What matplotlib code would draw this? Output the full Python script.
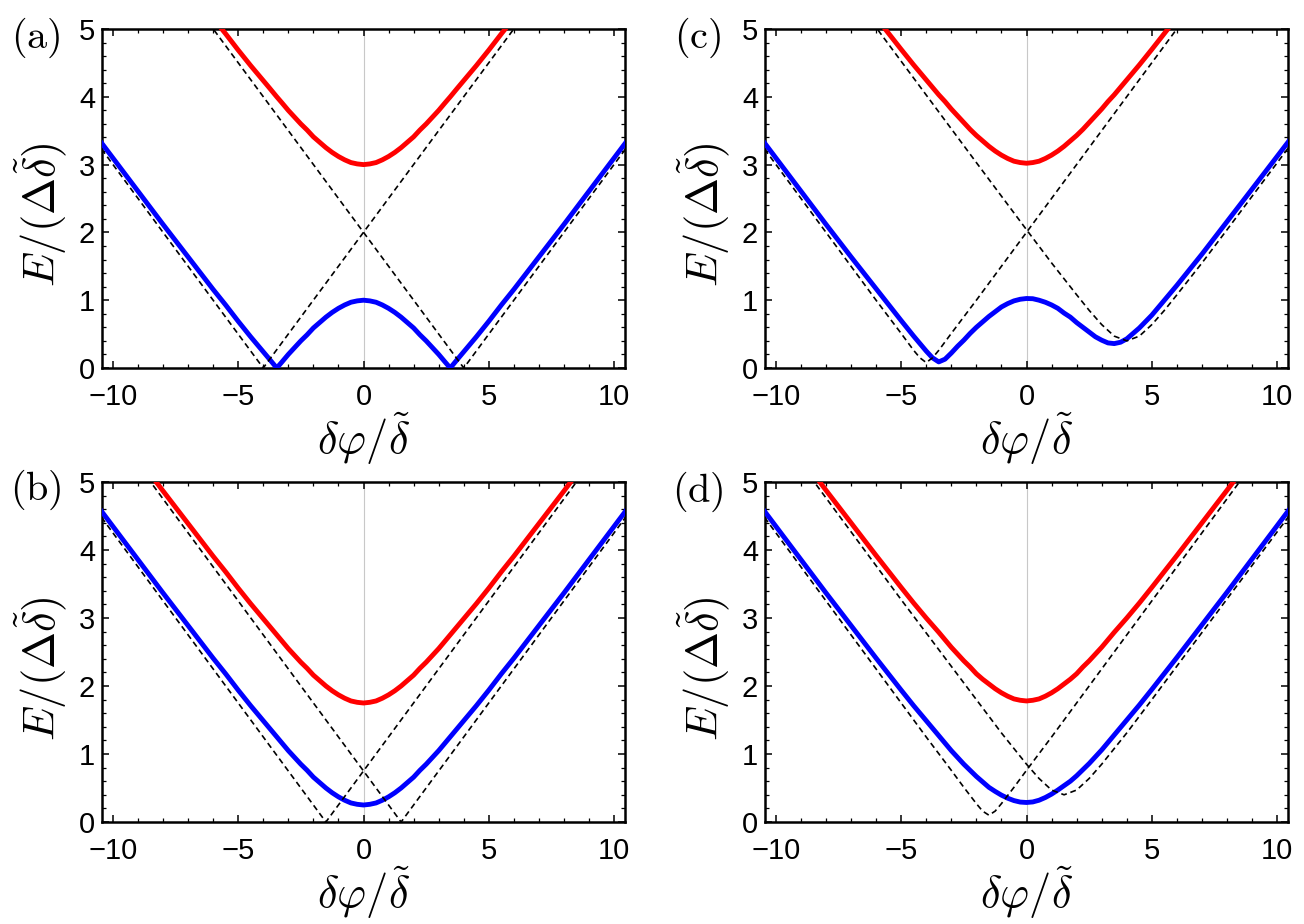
import matplotlib
matplotlib.use("Agg")
import matplotlib.pyplot as plt
from matplotlib.ticker import MultipleLocator, FixedLocator

plt.rcParams['mathtext.fontset'] = 'cm'
plt.rcParams['font.family'] = ['Liberation Sans', 'DejaVu Sans']

# ---------------- data ----------------
# Panel (a)
xa = [-10.45, -9, -8, -7, -6, -5.5, -5, -4.5, -4, -3.75, -3.46, -3.25, -3, -2.75, -2.5, -2.25, -2,
      -1.75, -1.5, -1.25, -1, -0.75, -0.5, -0.25, 0,
      0.25, 0.5, 0.75, 1, 1.25, 1.5, 1.75, 2, 2.25, 2.5, 2.75, 3, 3.25, 3.46, 3.75, 4, 4.5, 5, 5.5,
      6, 7, 8, 9, 10.45]
red_a = [7.32, 6.61, 6.12, 5.64, 5.16, 4.93, 4.69, 4.46, 4.24, 4.13, 4.00, 3.91, 3.80, 3.70, 3.60, 3.51, 3.41,
         3.33, 3.25, 3.18, 3.12, 3.07, 3.03, 3.01, 3.00,
         3.01, 3.03, 3.07, 3.12, 3.18, 3.25, 3.33, 3.41, 3.51, 3.60, 3.70, 3.80, 3.91, 4.00, 4.13, 4.24, 4.46,
         4.69, 4.93, 5.16, 5.64, 6.12, 6.61, 7.32]
blue_a = [3.32, 2.61, 2.12, 1.64, 1.16, 0.93, 0.69, 0.46, 0.24, 0.13, 0.00, 0.09, 0.20, 0.30, 0.40, 0.49, 0.59,
          0.67, 0.75, 0.82, 0.88, 0.93, 0.97, 0.99, 1.00,
          0.99, 0.97, 0.93, 0.88, 0.82, 0.75, 0.67, 0.59, 0.49, 0.40, 0.30, 0.20, 0.09, 0.00, 0.13, 0.24, 0.46,
          0.69, 0.93, 1.16, 1.64, 2.12, 2.61, 3.32]
da1_x = [-10.45, -4, 10.45]
da1_y = [3.23, 0.00, 7.23]
da2_x = [-10.45, 4, 10.45]
da2_y = [7.23, 0.00, 3.23]

# Panel (b)
xb = [-10.45, -9, -8, -7, -6, -5.5, -5, -4.5, -4, -3.5, -3, -2.75, -2.5, -2.25, -2, -1.75, -1.5,
      -1.25, -1, -0.75, -0.5, -0.25, 0,
      0.25, 0.5, 0.75, 1, 1.25, 1.5, 1.75, 2, 2.25, 2.5, 2.75, 3, 3.5, 4, 4.5, 5, 5.5, 6, 7, 8, 9, 10.45]
red_b = [6.07, 5.36, 4.87, 4.39, 3.91, 3.68, 3.44, 3.21, 2.99, 2.77, 2.55, 2.45, 2.35, 2.26, 2.16, 2.08, 2.00,
         1.93, 1.87, 1.82, 1.78, 1.76, 1.75,
         1.76, 1.78, 1.82, 1.87, 1.93, 2.00, 2.08, 2.16, 2.26, 2.35, 2.45, 2.55, 2.77, 2.99, 3.21, 3.44, 3.68,
         3.91, 4.39, 4.87, 5.36, 6.07]
blue_b = [4.57, 3.86, 3.37, 2.89, 2.41, 2.18, 1.94, 1.71, 1.49, 1.27, 1.05, 0.95, 0.85, 0.76, 0.66, 0.58, 0.50,
          0.43, 0.37, 0.32, 0.28, 0.26, 0.25,
          0.26, 0.28, 0.32, 0.37, 0.43, 0.50, 0.58, 0.66, 0.76, 0.85, 0.95, 1.05, 1.27, 1.49, 1.71, 1.94, 2.18,
          2.41, 2.89, 3.37, 3.86, 4.57]
db1_x = [-10.45, -1.5, 10.45]
db1_y = [4.48, 0.00, 5.98]
db2_x = [-10.45, 1.5, 10.45]
db2_y = [5.98, 0.00, 4.48]

# Panel (c)
xc = [-10.45, -9, -8, -7, -6, -5, -4.5, -4, -3.75, -3.5, -3.25, -3, -2.75, -2.5, -2.25, -2, -1.75, -1.5,
      -1.25, -1, -0.75, -0.5, -0.25, 0,
      0.25, 0.5, 0.75, 1, 1.25, 1.5, 1.75, 2, 2.25, 2.5, 2.75, 3, 3.25, 3.5, 3.75, 4, 4.5, 5, 6, 7, 8, 9, 10.45]
red_c = [7.33, 6.62, 6.13, 5.65, 5.17, 4.70, 4.47, 4.25, 4.14, 4.03, 3.93, 3.82, 3.72, 3.62, 3.52, 3.43, 3.35,
         3.27, 3.20, 3.14, 3.09, 3.05, 3.03, 3.02,
         3.03, 3.05, 3.09, 3.14, 3.20, 3.27, 3.35, 3.43, 3.52, 3.62, 3.72, 3.82, 3.93, 4.03, 4.14, 4.25, 4.47,
         4.70, 5.17, 5.65, 6.13, 6.62, 7.33]
blue_c = [3.32, 2.61, 2.12, 1.64, 1.17, 0.70, 0.47, 0.25, 0.15, 0.09, 0.13, 0.22, 0.32, 0.41, 0.51, 0.60, 0.68,
          0.76, 0.83, 0.90, 0.95, 0.99, 1.014, 1.025,
          1.022, 1.00, 0.97, 0.93, 0.88, 0.81, 0.75, 0.67, 0.60, 0.53, 0.46, 0.41, 0.37, 0.36, 0.38, 0.43, 0.59,
          0.78, 1.22, 1.68, 2.16, 2.64, 3.34]
dc1_x = [-10.45, -6, -5, -4.5, -4.25, -4, -3.75, -3.5, -3, -2, 10.45]
dc1_y = [3.23, 1.00, 0.51, 0.26, 0.15, 0.08, 0.15, 0.26, 0.51, 1.00, 7.23]
dc2_x = [-10.45, -2, 0, 1, 2, 2.5, 3, 3.5, 4, 4.5, 5, 5.5, 6, 7, 8, 10.45]
dc2_y = [7.24, 3.03, 2.04, 1.55, 1.08, 0.85, 0.64, 0.47, 0.40, 0.47, 0.64, 0.85, 1.08, 1.55, 2.04, 3.25]

# Panel (d)
xd = [-10.45, -9, -8, -7, -6, -5, -4.5, -4, -3.5, -3, -2.75, -2.5, -2.25, -2, -1.75, -1.5, -1.25, -1,
      -0.75, -0.5, -0.25, 0,
      0.25, 0.5, 0.75, 1, 1.25, 1.5, 1.75, 2, 2.25, 2.5, 2.75, 3, 3.5, 4, 4.5, 5, 6, 7, 8, 9, 10.45]
red_d = [6.07, 5.37, 4.88, 4.40, 3.92, 3.45, 3.22, 3.00, 2.79, 2.57, 2.47, 2.37, 2.28, 2.18, 2.10, 2.03, 1.96,
         1.90, 1.85, 1.81, 1.79, 1.78,
         1.79, 1.81, 1.85, 1.90, 1.96, 2.03, 2.10, 2.18, 2.28, 2.37, 2.47, 2.57, 2.79, 3.00, 3.22, 3.45, 3.92,
         4.40, 4.88, 5.37, 6.07]
blue_d = [4.57, 3.86, 3.37, 2.89, 2.41, 1.94, 1.71, 1.49, 1.27, 1.05, 0.95, 0.85, 0.76, 0.67, 0.59, 0.51, 0.45,
          0.395, 0.35, 0.315, 0.293, 0.287,
          0.295, 0.32, 0.36, 0.41, 0.47, 0.535, 0.60, 0.68, 0.77, 0.86, 0.96, 1.06, 1.28, 1.50, 1.72, 1.95, 2.42,
          2.90, 3.38, 3.87, 4.58]
dd1_x = [-10.45, -4, -3, -2.5, -2, -1.75, -1.5, -1.25, -1, -0.5, 0, 1, 10.45]
dd1_y = [4.48, 1.25, 0.76, 0.51, 0.27, 0.16, 0.10, 0.16, 0.27, 0.51, 0.76, 1.25, 5.98]
dd2_x = [-10.45, -5, -1, 0, 0.5, 1, 1.5, 2, 2.5, 3, 4, 5, 10.45]
dd2_y = [5.99, 3.27, 1.31, 0.85, 0.64, 0.47, 0.40, 0.47, 0.64, 0.85, 1.31, 1.80, 4.49]

panel_labels = ['(a)', '(b)', '(c)', '(d)']
x_ticks = [-10, -5, 0, 5, 10]
y_ticks = [0, 1, 2, 3, 4, 5]
xlabel = r'$\delta\varphi/\tilde{\delta}$'
ylabel = r'$E/(\Delta\tilde{\delta})$'

# ---------------- figure ----------------
W, H = 1304, 924
fig = plt.figure(figsize=(W / 100, H / 100), dpi=100)

def px_rect(l, r, t, b):
    return [l / W, 1 - b / H, (r - l) / W, (b - t) / H]

rects = {
    'a': px_rect(102, 625, 29, 368),
    'c': px_rect(765, 1288, 29, 368),
    'b': px_rect(102, 625, 482, 822),
    'd': px_rect(765, 1288, 482, 822),
}

panels = {
    'a': (xa, red_a, blue_a, [(da1_x, da1_y), (da2_x, da2_y)]),
    'b': (xb, red_b, blue_b, [(db1_x, db1_y), (db2_x, db2_y)]),
    'c': (xc, red_c, blue_c, [(dc1_x, dc1_y), (dc2_x, dc2_y)]),
    'd': (xd, red_d, blue_d, [(dd1_x, dd1_y), (dd2_x, dd2_y)]),
}

label_pos = {'a': (36, 38), 'c': (698, 38), 'b': (36, 490), 'd': (698, 492)}

for key in ['a', 'b', 'c', 'd']:
    ax = fig.add_axes(rects[key])
    x, red, blue, dashes = panels[key]
    ax.axvline(0, color='#c8c8c8', lw=0.8, zorder=1)
    ax.plot(x, red, color='#ff0000', lw=3.5, zorder=3, solid_joinstyle='round')
    ax.plot(x, blue, color='#0000ff', lw=3.5, zorder=3, solid_joinstyle='round')
    for dx, dy in dashes:
        ax.plot(dx, dy, color='black', lw=1.2, ls=(0, (3.5, 2.3)), zorder=4)
    ax.set_xlim(-10.43, 10.43)
    ax.set_ylim(0, 5)
    ax.xaxis.set_major_locator(FixedLocator(x_ticks))
    ax.yaxis.set_major_locator(FixedLocator(y_ticks))
    ax.xaxis.set_minor_locator(MultipleLocator(1))
    ax.yaxis.set_minor_locator(MultipleLocator(0.2))
    ax.tick_params(which='both', direction='in', top=True, right=True, color='black')
    ax.tick_params(which='major', length=5, width=1.1, labelsize=21)
    ax.tick_params(which='minor', length=3, width=0.9)
    ax.tick_params(axis='x', which='major', pad=11)
    ax.tick_params(axis='y', which='major', pad=5)
    for s in ax.spines.values():
        s.set_linewidth(1.8)
    ax.set_xlabel(xlabel, fontsize=32, va='top')
    ax.xaxis.set_label_coords(0.5, -0.125)
    ax.set_ylabel(ylabel, fontsize=32, va='center')
    ax.yaxis.set_label_coords(-0.117, 0.45)
    lx, ly = label_pos[key]
    fig.text(lx / W, 1 - ly / H, r'$\mathrm{' + panel_labels['abcd'.index(key)] + '}$',
             fontsize=29, ha='center', va='center')

fig.savefig('out.png', dpi=100)
